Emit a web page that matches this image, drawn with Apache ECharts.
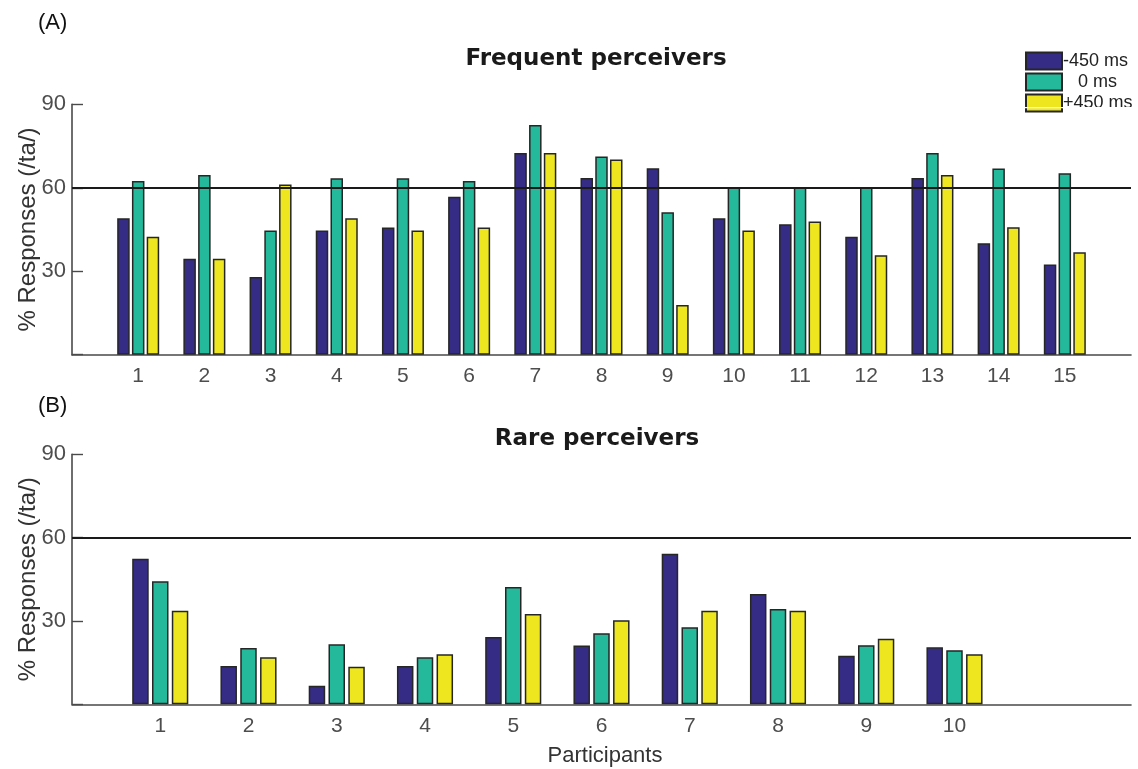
<!DOCTYPE html>
<html>
<head>
<meta charset="utf-8">
<script src="https://cdn.jsdelivr.net/npm/echarts@6/dist/echarts.min.js"></script>
<style>
  html, body { margin: 0; padding: 0; background: #ffffff; }
  #chart { width: 1138px; height: 769px; }
</style>
</head>
<body>
<div id="chart"></div>
<script>
// Percentage of /ta/ responses per participant for three audio-visual lags
const lagNames = ['-450 ms', '0 ms', '+450 ms'];
const lagColors = ['#352c85', '#25b99b', '#eee71f'];

// (A) Frequent perceivers
const participantsA = [1, 2, 3, 4, 5, 6, 7, 8, 9, 10, 11, 12, 13, 14, 15];
const frequentMinus450 = [49.0, 34.5, 27.9, 44.6, 45.7, 56.8, 72.5, 63.5, 67.0, 49.0, 46.9, 42.4, 63.5, 40.1, 32.4];
const frequentZero     = [62.4, 64.6, 44.6, 63.4, 63.4, 62.4, 82.6, 71.2, 51.2, 60.2, 60.2, 60.2, 72.5, 66.9, 65.2];
const frequentPlus450  = [42.4, 34.5, 61.2, 49.0, 44.6, 45.7, 72.5, 70.2, 17.9, 44.6, 47.9, 35.7, 64.6, 45.8, 36.8];

// (B) Rare perceivers
const participantsB = [1, 2, 3, 4, 5, 6, 7, 8, 9, 10];
const rareMinus450 = [52.4, 13.8, 6.7, 13.8, 24.2, 21.2, 54.2, 39.7, 17.5, 20.5];
const rareZero     = [44.3, 20.3, 21.6, 16.9, 42.2, 25.6, 27.7, 34.3, 21.3, 19.5];
const rarePlus450  = [33.7, 16.9, 13.5, 18.0, 32.5, 30.3, 33.7, 33.7, 23.6, 18.0];

// Axis settings
const yMin = 0, yMax = 90, yStep = 30;
const xMaxA = 16, xMaxB = 12;
const thresholdLevel = 60;

const pairs = (xs, ys) => xs.map((x, i) => [x, ys[i]]);

const font = '"Liberation Sans", Arial, Helvetica, sans-serif';
const axisGrey = '#4a4a4a';

function makeX(gridIndex, maxVal) {
  return {
    type: 'value', gridIndex: gridIndex, min: 0, max: maxVal, interval: 1,
    axisLine: { show: true, lineStyle: { color: axisGrey, width: 1.6 } },
    axisTick: { show: false },
    splitLine: { show: false },
    axisLabel: {
      fontFamily: font, fontSize: 21, color: '#4d4d4d', margin: 11,
      formatter: v => (v >= 1 && v < maxVal && (gridIndex === 0 || v <= participantsB.length)) ? String(v) : ''
    }
  };
}

function makeY(gridIndex) {
  return {
    type: 'value', gridIndex: gridIndex, min: yMin, max: yMax, interval: yStep,
    name: '% Responses (/ta/)', nameLocation: 'middle', nameGap: 32,
    nameMoveOverlap: false,
    nameTextStyle: { fontFamily: font, fontSize: 24, color: '#333333' },
    axisLine: { show: true, lineStyle: { color: axisGrey, width: 1.6 } },
    axisTick: { show: true, inside: true, length: 11, lineStyle: { color: axisGrey, width: 1.4 } },
    splitLine: { show: false },
    axisLabel: {
      fontFamily: font, fontSize: 22, color: '#4d4d4d', margin: 6,
      formatter: v => v === 0 ? '' : String(v)
    }
  };
}

function makeBar(name, color, xs, ys, idx, width, gap, withLine) {
  const s = {
    type: 'bar', name: name, xAxisIndex: idx, yAxisIndex: idx,
    data: pairs(xs, ys),
    barWidth: width, barGap: gap,
    itemStyle: { color: color, borderColor: '#262626', borderWidth: 1.5 },
    emphasis: { disabled: true },
    animation: false
  };
  if (withLine) {
    s.markLine = {
      silent: true, symbol: 'none', animation: false,
      label: { show: false },
      lineStyle: { color: '#1a1a1a', width: 2, type: 'solid' },
      data: [{ yAxis: thresholdLevel }]
    };
  }
  return s;
}

const chart = echarts.init(document.getElementById('chart'), null, { renderer: 'canvas' });

const titleFont = { fontFamily: '"DejaVu Sans", sans-serif', fontWeight: 'bold', fontSize: 23, color: '#1a1a1a' };
const plainFont = size => ({ fontFamily: font, fontWeight: 'normal', fontSize: size, color: '#111111' });

chart.setOption({
  backgroundColor: '#ffffff',
  animation: false,
  title: [
    { text: 'Frequent perceivers', left: 596, top: 48, textAlign: 'center', padding: 0, textStyle: titleFont },
    { text: 'Rare perceivers', left: 597, top: 428, textAlign: 'center', padding: 0, textStyle: titleFont },
    { text: '(A)', left: 38, top: 12, padding: 0, textStyle: plainFont(22) },
    { text: '(B)', left: 38, top: 395, padding: 0, textStyle: plainFont(22) },
    { text: 'Participants', left: 605, top: 745, textAlign: 'center', padding: 0,
      textStyle: Object.assign(plainFont(22), { color: '#333333' }) }
  ],
  legend: {
    data: lagNames, orient: 'vertical', left: 1025, top: 51.5,
    itemWidth: 36, itemHeight: 17, itemGap: 2,
    icon: 'rect', padding: 0,
    textStyle: { fontFamily: font, fontSize: 18, lineHeight: 17, color: '#222222', padding: [0, 0, 0, -4] },
    formatter: n => n === '0 ms' ? '   0 ms' : n,
    selectedMode: false
  },
  grid: [
    { left: 72, top: 104.3, width: 1059, height: 250.4, containLabel: false },
    { left: 72, top: 454.3, width: 1059, height: 250, containLabel: false }
  ],
  xAxis: [makeX(0, xMaxA), makeX(1, xMaxB)],
  yAxis: [makeY(0), makeY(1)],
  series: [
    makeBar(lagNames[0], lagColors[0], participantsA, frequentMinus450, 0, 12.5, '18%', true),
    makeBar(lagNames[1], lagColors[1], participantsA, frequentZero,     0, 12.5, '18%', false),
    makeBar(lagNames[2], lagColors[2], participantsA, frequentPlus450,  0, 12.5, '18%', false),
    makeBar(lagNames[0], lagColors[0], participantsB, rareMinus450, 1, 16.5, '20%', true),
    makeBar(lagNames[1], lagColors[1], participantsB, rareZero,     1, 16.5, '20%', false),
    makeBar(lagNames[2], lagColors[2], participantsB, rarePlus450,  1, 16.5, '20%', false)
  ],
  graphic: [
    // thin white rule crossing the last legend row
    { type: 'rect', z: 100, shape: { x: 1025, y: 107, width: 108, height: 1.3 },
      style: { fill: '#ffffff' }, silent: true }
  ]
});
</script>
</body>
</html>
